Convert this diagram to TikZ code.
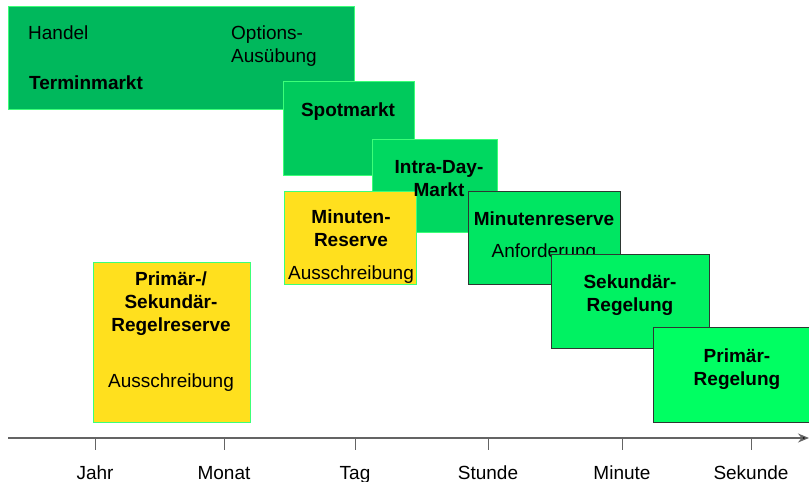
\documentclass[tikz,border=0pt]{standalone}
\usepackage{fontspec}
\setmainfont{Liberation Sans}
\usetikzlibrary{arrows.meta}
\definecolor{gA}{RGB}{0,184,92}
\definecolor{gB}{RGB}{0,202,92}
\definecolor{gC}{RGB}{0,216,96}
\definecolor{gD}{RGB}{0,230,98}
\definecolor{gE}{RGB}{0,242,98}
\definecolor{gF}{RGB}{0,255,98}
\definecolor{yel}{RGB}{255,224,30}
\definecolor{lborder}{RGB}{60,255,120}
\definecolor{dborder}{RGB}{45,55,50}
\definecolor{axisgray}{RGB}{100,100,100}
\tikzset{
  box/.style={rectangle, inner sep=0pt, anchor=north west, line width=1.2pt},
  lbox/.style={box, draw=lborder},
  dbox/.style={box, draw=dborder},
  txt/.style={font=\fontsize{19}{23}\selectfont, align=center, inner sep=0pt},
  btxt/.style={font=\fontsize{19}{23}\selectfont\bfseries, align=center, inner sep=0pt},
  tick/.style={draw=axisgray, line width=1pt},
}
\begin{document}
\begin{tikzpicture}[x=1pt,y=-1pt]
\useasboundingbox (0,0) rectangle (809,482);
% Terminmarkt
\node[lbox, fill=gA, minimum width=346pt, minimum height=103pt] (term) at (8,6) {};
\node[txt, anchor=base west] (handel) at (28,39) {Handel};
\node[txt, anchor=base west, align=left] (opt) at (231,62) {Options-\\Ausübung};
\node[btxt, anchor=base west] (termt) at (29,89) {Terminmarkt};
% Spotmarkt
\node[lbox, fill=gB, minimum width=131pt, minimum height=94pt] (spot) at (283,81) {};
\node[btxt, anchor=base] (spott) at (348,116) {Spotmarkt};
% Intra-Day
\node[lbox, fill=gC, minimum width=125pt, minimum height=93pt] (intra) at (372,139) {};
% Minuten-Reserve (yellow)
\node[lbox, fill=yel, minimum width=132pt, minimum height=93pt] (mres) at (284,191) {};
\node[btxt, anchor=base] (intrat) at (439,196) {Intra-Day-\\Markt};
\node[btxt, anchor=base] (mrest) at (351,246) {Minuten-\\Reserve};
\node[txt, anchor=base] (mrest2) at (351,279) {Ausschreibung};
% Minutenreserve Anforderung
\node[dbox, fill=gD, minimum width=152pt, minimum height=93pt] (manf) at (468,191) {};
\node[btxt, anchor=base] (manft) at (544,225) {Minutenreserve};
\node[txt, anchor=base] (manft2) at (544,257) {Anforderung};
% Sekundaer-Regelung
\node[dbox, fill=gE, minimum width=158pt, minimum height=94pt] (sek) at (551,254) {};
\node[btxt, anchor=base] (sekt) at (630,311) {Sekundär-\\Regelung};
% Primaer-Regelung
\node[dbox, fill=gF, minimum width=156pt, minimum height=95pt] (prim) at (653,327) {};
\node[btxt, anchor=base] (primt) at (737,385) {Primär-\\Regelung};
% Primaer-/Sekundaer-Regelreserve
\node[lbox, fill=yel, minimum width=157pt, minimum height=160pt] (psr) at (93,262) {};
\node[btxt, anchor=base] (psrt) at (171,331) {Primär-/\\Sekundär-\\Regelreserve};
\node[txt, anchor=base] (psrt2) at (171,387) {Ausschreibung};
% axis
\coordinate (ax0) at (8,438);
\coordinate (ax1) at (809,438);
\draw[draw=axisgray, line width=1.3pt, -{Stealth[length=11pt,width=9pt,fill=black]}] (ax0) -- (ax1);
\foreach \x/\n/\l in {95/jahr/Jahr, 224/monat/Monat, 355/tag/Tag, 488/stunde/Stunde, 622/minute/Minute, 751/sekunde/Sekunde}{
  \coordinate (t\n) at (\x,438);
  \draw[tick] (t\n) -- ++(0,12);
  \node[txt, anchor=base] (l\n) at (\x,479) {\l};
}
\end{tikzpicture}
\end{document}
